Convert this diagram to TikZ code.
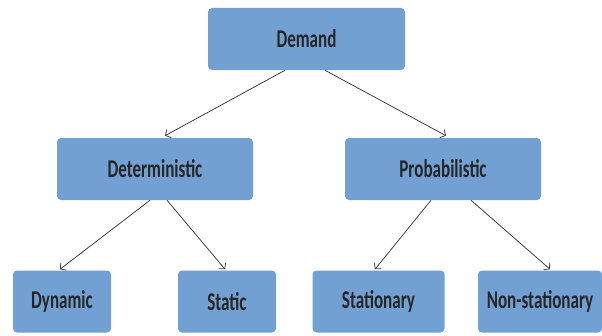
\documentclass[tikz,border=0pt]{standalone}
\usepackage{fontspec}
\setmainfont{Carlito}
\usetikzlibrary{calc,arrows.meta}
\definecolor{boxblue}{RGB}{114,160,210}
\definecolor{txtgray}{RGB}{38,38,38}
\newcommand{\tallword}[1]{\scalebox{1}[1.5]{#1}}
\begin{document}
\begin{tikzpicture}[x=0.75pt,y=-0.75pt,
    box/.style={rectangle,rounded corners=3pt,fill=boxblue,text=txtgray,
        font=\bfseries\fontsize{12.8}{15}\selectfont,inner sep=0pt,
        minimum height=46.5pt},
    link/.style={draw=black!75,line width=0.6pt,-{Straight Barb[length=3pt,width=7pt]}}]
    \useasboundingbox (0,0) rectangle (602,335);
    % top level
    \node [box,minimum width=147.75pt] (dem) at (306.5,39) {\tallword{Demand}};
    % second level
    \node [box,minimum width=147pt] (det) at (155,169) {\tallword{Deterministic}};
    \node [box,minimum width=147pt] (prob) at (443,169) {\tallword{Probabilistic}};
    % third level
    \node [box,minimum width=73.5pt] (dyn) at (62,301.5) {\tallword{Dynamic}};
    \node [box,minimum width=73.5pt] (stat) at (227,301.5) {\tallword{Static}};
    \node [box,minimum width=99pt] (stn) at (378.5,301.5) {\tallword{Stationary}};
    \node [box,minimum width=93pt] (nstn) at (540,301.5) {\tallword{Non-stationary}};
    % links
    \draw [link] ($(dem.south)+(-21.5,0)$) -- ($(det.north)+(10,-2)$);
    \draw [link] ($(dem.south)+(18.5,0)$) -- ($(prob.north)+(3,-2)$);
    \draw [link] ($(det.south)+(-5,0)$) -- ($(dyn.north)+(-2,-1)$);
    \draw [link] ($(det.south)+(12,0)$) -- ($(stat.north)+(-2,-1)$);
    \draw [link] ($(prob.south)+(-12,0)$) -- ($(stn.north)+(-3.5,-1)$);
    \draw [link] ($(prob.south)+(28,0)$) -- ($(nstn.north)+(10,-1)$);
\end{tikzpicture}
\end{document}
